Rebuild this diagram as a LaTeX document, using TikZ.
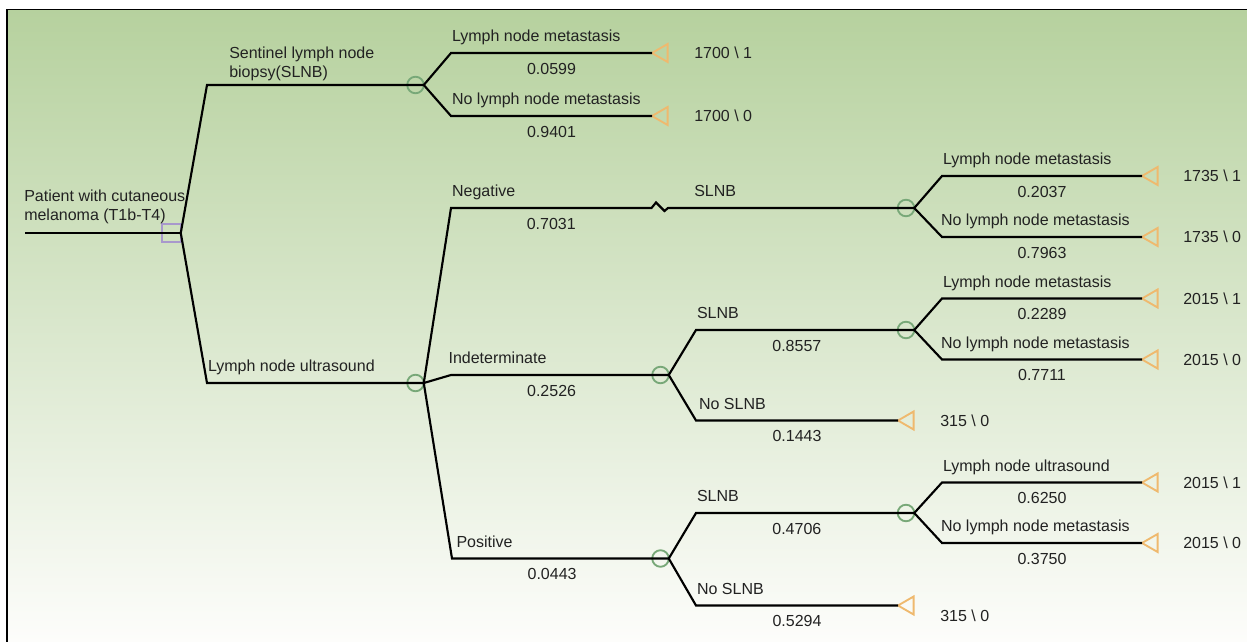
\documentclass[tikz,border=0pt]{standalone}
\usepackage{fontspec}
\setmainfont{Liberation Sans}
\usetikzlibrary{shapes.geometric}
\definecolor{bgtop}{HTML}{B6D19E}
\definecolor{bgbot}{HTML}{FDFDFB}
\definecolor{chancecol}{HTML}{78A878}
\definecolor{termcol}{HTML}{EFB96E}
\definecolor{deccol}{HTML}{A898CC}
\definecolor{txtcol}{HTML}{222222}
\tikzset{
	branch/.style={line width=1.6pt, black},
	decision/.style={draw=deccol, line width=1.4pt, minimum size=13.9pt, inner sep=0pt, outer sep=0pt},
	chance/.style={circle, draw=chancecol, line width=1.4pt, minimum size=12.4pt, inner sep=0pt, outer sep=0pt},
	terminal/.style={regular polygon, regular polygon sides=3, shape border rotate=90, draw=termcol, line width=1.4pt, minimum size=15.6pt, inner sep=0pt, outer sep=0pt, anchor=corner 1},
	lab/.style={font=\fontsize{12}{14.25}\selectfont, text=txtcol, inner sep=0pt, anchor=base west, yshift=8.6pt},
	labtwo/.style={font=\fontsize{12}{14.25}\selectfont, text=txtcol, inner sep=0pt, anchor=south west, align=left},
	prob/.style={font=\fontsize{12}{14.25}\selectfont, text=txtcol, inner sep=0pt, anchor=base, yshift=-16pt},
	pay/.style={font=\fontsize{12}{14.25}\selectfont, text=txtcol, inner sep=0pt, anchor=base west, yshift=-4.3pt}
}

\begin{document}
\begin{tikzpicture}[x=0.75pt, y=-0.75pt]
				\useasboundingbox (0,0) rectangle (1247,642);
				\shade[top color=bgtop, bottom color=bgbot] (7,9.5) rectangle (1247,642);
				\draw[line width=1.2pt] (7,642) -- (7,9.5) -- (1247,9.5);
				
				\node[decision] (dec) at (171.5,233) {};
				\coordinate (p0) at (25,233);
				\draw[branch] (p0) -- (dec.east);
				\node[labtwo, yshift=6.5pt] (lpat) at (24,233) {Patient with cutaneous\\melanoma (T1b-T4)};
				
				\coordinate (s0) at (207,85);
				\node[chance] (cs) at (415.5,85) {};
				\draw[branch] (dec.east) -- (s0) -- (cs.east);
				\node[labtwo, yshift=3pt] (lsln) at (229,85) {Sentinel lymph node\\biopsy(SLNB)};
				
				\coordinate (s1) at (451,53);
				\coordinate (s2) at (451,116);
				\node[terminal] (ts1) at (652,53) {};
				\node[terminal] (ts2) at (652,116) {};
				\draw[branch] (cs.east) -- (s1) -- node[lab, pos=0] (ls1) {Lymph node metastasis} node[prob] (ps1) {0.0599} (ts1.corner 1);
				\draw[branch] (cs.east) -- (s2) -- node[lab, pos=0] (ls2) {No lymph node metastasis} node[prob] (ps2) {0.9401} (ts2.corner 1);
				\node[pay] (vs1) at (694,53) {1700 \textbackslash{} 1};
				\node[pay] (vs2) at (694,116) {1700 \textbackslash{} 0};
				
				\coordinate (u0) at (207,383);
				\node[chance] (cu) at (415.5,383) {};
				\draw[branch] (dec.east) -- (u0) -- node[lab, pos=0] (lu) {Lymph node ultrasound} (cu.east);
				
				\coordinate (n0) at (451,208);
				\coordinate (nz) at (651.5,208);
				\node[chance] (cn) at (906,208) {};
				\draw[branch] (cu.east) -- (n0) -- node[lab, pos=0] (lneg) {Negative} node[prob] (pneg) {0.7031} (nz) -- ++(4.5,-5.5) -- ++(8.5,8.5) -- ++(3.5,-3) -- (cn.east);
				\node[lab] (lnslnb) at (694,208) {SLNB};
				
				\coordinate (n1) at (942,176);
				\coordinate (n2) at (942,237);
				\node[terminal] (tn1) at (1142,176) {};
				\node[terminal] (tn2) at (1142,237) {};
				\draw[branch] (cn.east) -- (n1) -- node[lab, pos=0] (ln1) {Lymph node metastasis} node[prob] (pn1) {0.2037} (tn1.corner 1);
				\draw[branch] (cn.east) -- (n2) -- node[lab, pos=0, xshift=-1.5pt] (ln2) {No lymph node metastasis} node[prob] (pn2) {0.7963} (tn2.corner 1);
				\node[pay] (vn1) at (1183,176) {1735 \textbackslash{} 1};
				\node[pay] (vn2) at (1183,237) {1735 \textbackslash{} 0};
				
				\coordinate (i0) at (451,375);
				\node[chance] (ci) at (660.5,375) {};
				\draw[branch] (cu.east) -- (i0) -- node[lab, pos=0, xshift=-2.6pt] (lind) {Indeterminate} node[prob] (pind) {0.2526} (ci.west) -- (ci.east);
				
				\coordinate (i1) at (696,330);
				\coordinate (i2) at (696,420.5);
				\node[chance] (cis) at (906,330) {};
				\node[terminal] (ti2) at (898,420.5) {};
				\draw[branch] (ci.east) -- (i1) -- node[lab, pos=0] (li1) {SLNB} node[prob] (pi1) {0.8557} (cis.west) -- (cis.east);
				\draw[branch] (ci.east) -- (i2) -- node[lab, pos=0, xshift=1.5pt] (li2) {No SLNB} node[prob] (pi2) {0.1443} (ti2.corner 1);
				\node[pay] (vi2) at (940,420.5) {315 \textbackslash{} 0};
				
				\coordinate (m1) at (942,298.5);
				\coordinate (m2) at (942,359.5);
				\node[terminal] (tm1) at (1142,298.5) {};
				\node[terminal] (tm2) at (1142,359.5) {};
				\draw[branch] (cis.east) -- (m1) -- node[lab, pos=0] (lm1) {Lymph node metastasis} node[prob] (pm1) {0.2289} (tm1.corner 1);
				\draw[branch] (cis.east) -- (m2) -- node[lab, pos=0, xshift=-1.5pt] (lm2) {No lymph node metastasis} node[prob] (pm2) {0.7711} (tm2.corner 1);
				\node[pay] (vm1) at (1183,298.5) {2015 \textbackslash{} 1};
				\node[pay] (vm2) at (1183,359.5) {2015 \textbackslash{} 0};
				
				\coordinate (q0) at (452,558.5);
				\node[chance] (cp) at (660.5,558.5) {};
				\draw[branch] (cu.east) -- (q0) -- node[lab, pos=0, xshift=2.6pt] (lpos) {Positive} node[prob] (ppos) {0.0443} (cp.west) -- (cp.east);
				
				\coordinate (q1) at (696,513);
				\coordinate (q2) at (696,605.5);
				\node[chance] (cps) at (906,513) {};
				\node[terminal] (tq2) at (898,605.5) {};
				\draw[branch] (cp.east) -- (q1) -- node[lab, pos=0] (lq1) {SLNB} node[prob] (pq1) {0.4706} (cps.west) -- (cps.east);
				\draw[branch] (cp.east) -- (q2) -- node[lab, pos=0] (lq2) {No SLNB} node[prob] (pq2) {0.5294} (tq2.corner 1);
				\node[pay] (vq2) at (940,615.5) {315 \textbackslash{} 0};
				
				\coordinate (k1) at (942,482.5);
				\coordinate (k2) at (942,543);
				\node[terminal] (tk1) at (1142,482.5) {};
				\node[terminal] (tk2) at (1142,543) {};
				\draw[branch] (cps.east) -- (k1) -- node[lab, pos=0] (lk1) {Lymph node ultrasound} node[prob] (pk1) {0.6250} (tk1.corner 1);
				\draw[branch] (cps.east) -- (k2) -- node[lab, pos=0, xshift=-1.5pt] (lk2) {No lymph node metastasis} node[prob] (pk2) {0.3750} (tk2.corner 1);
				\node[pay] (vk1) at (1183,482.5) {2015 \textbackslash{} 1};
				\node[pay] (vk2) at (1183,543) {2015 \textbackslash{} 0};
			\end{tikzpicture}
\end{document}
